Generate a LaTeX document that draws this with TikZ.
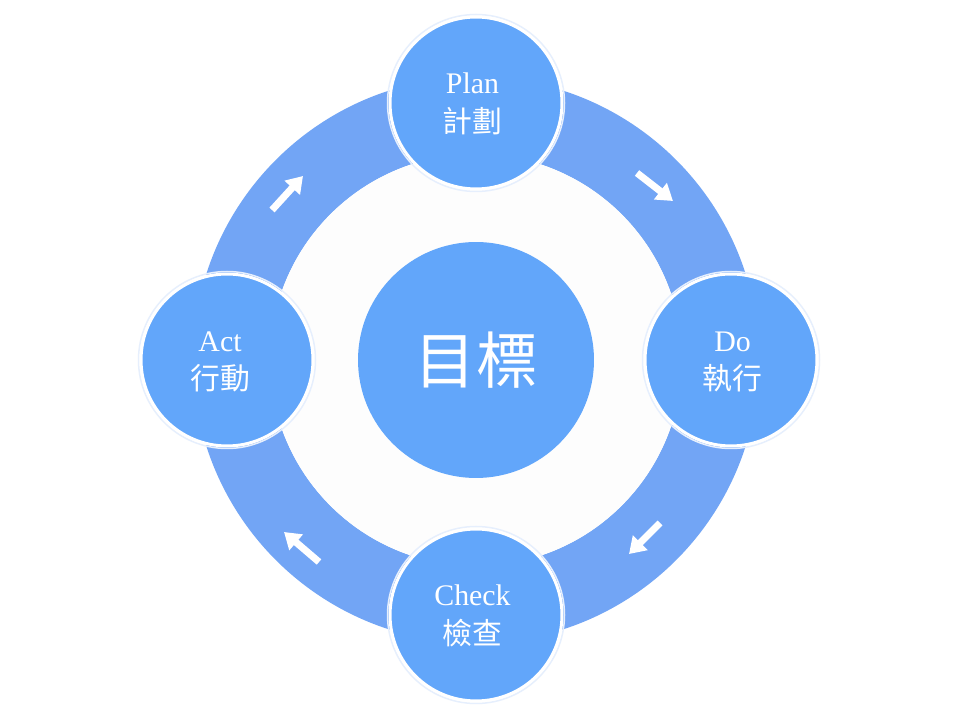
\documentclass[tikz,border=0pt]{standalone}
\usepackage{fontspec}
\setmainfont{Liberation Serif}
\newfontfamily\cjk{Noto Sans CJK TC}
\usetikzlibrary{arrows.meta}
\definecolor{ringc}{RGB}{114,165,245}
\definecolor{circc}{RGB}{98,166,250}
\definecolor{haloc}{RGB}{230,239,253}
\definecolor{bgc}{RGB}{253,253,253}
\begin{document}
\begin{tikzpicture}[x=0.02cm,y=0.02cm,
  stage/.style={circle, fill=circc, draw=white, line width=0.06cm,
    minimum size=3.44cm, inner sep=0pt},
  stagetext/.style={align=center, text=white, inner sep=0pt,
    font=\fontsize{17}{22}\selectfont},
  goalbox/.style={circle, fill=circc, minimum size=4.72cm, inner sep=0pt,
    text=white, font=\cjk\fontsize{35}{40}\selectfont},
  halo/.style={draw=haloc, line width=0.03cm},
  flowarrow/.style={draw=white, line width=0.14cm,
    -{Triangle[width=0.4cm,length=0.32cm]}}]
\useasboundingbox (0,0) rectangle (960,720);
\fill[white] (0,0) rectangle (960,720);
\fill[ringc, even odd rule] (476,360) circle (283) (476,360) circle (206);
\fill[bgc] (476,360) circle (206);
\node[goalbox] (goal) at (476,360) {目標};
\foreach \p in {(476,617),(731,360),(476,105),(227,360)}
  \draw[halo] \p circle (88.5);
\node[stage] (plan) at (476,617) {};
\node[stage] (do) at (731,360) {};
\node[stage] (check) at (476,105) {};
\node[stage] (act) at (227,360) {};
\node[stagetext] (plant) at ([xshift=-0.07cm,yshift=-0.02cm]plan.center) {Plan\\{\cjk 計劃}};
\node[stagetext] (dot) at ([xshift=0.03cm,yshift=-0.04cm]do.center) {Do\\{\cjk 執行}};
\node[stagetext] (checkt) at ([xshift=-0.07cm,yshift=-0.02cm]check.center) {Check\\{\cjk 檢查}};
\node[stagetext] (actt) at ([xshift=-0.14cm,yshift=-0.04cm]act.center) {Act\\{\cjk 行動}};
\coordinate (a1s) at (272,510); \coordinate (a1e) at (303,544);
\coordinate (a2s) at (637,547); \coordinate (a2e) at (673,519);
\coordinate (a3s) at (660,197); \coordinate (a3e) at (629,166);
\coordinate (a4s) at (319,158); \coordinate (a4e) at (284,188);
\foreach \i in {1,2,3,4}
  \draw[flowarrow] (a\i s) -- (a\i e);
\end{tikzpicture}
\end{document}
